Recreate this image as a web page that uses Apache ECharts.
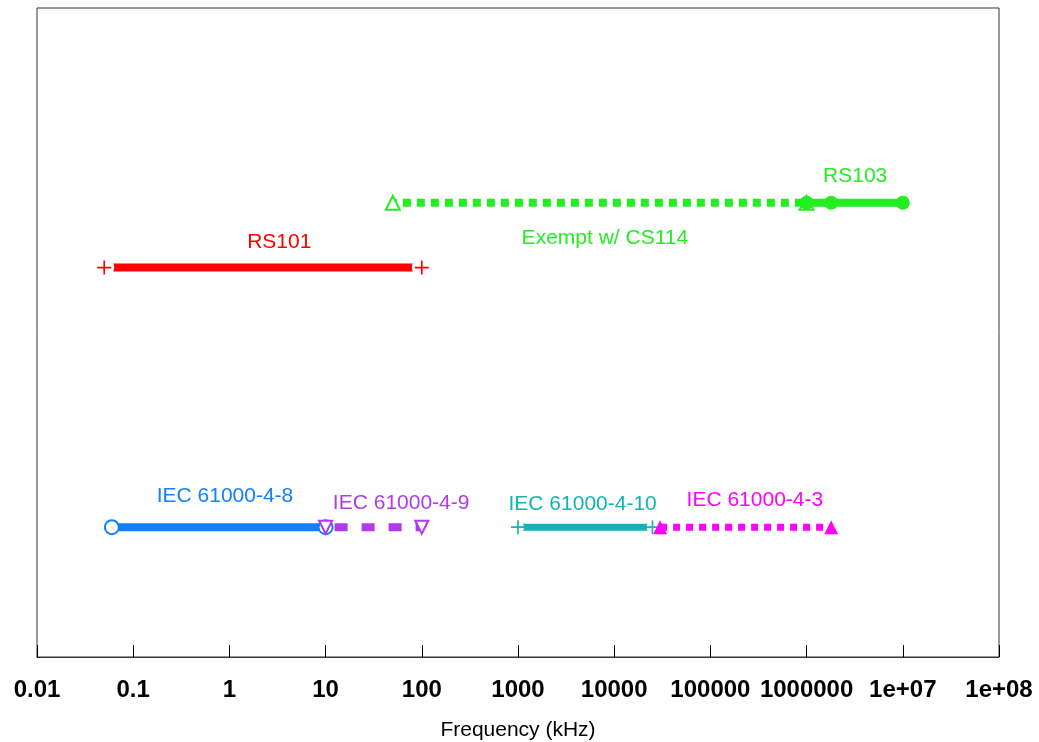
<!DOCTYPE html>
<html>
<head>
<meta charset="utf-8">
<script src="https://cdn.jsdelivr.net/npm/echarts@6/dist/echarts.min.js"></script>
<style>
html,body{margin:0;padding:0;background:#fff;}
#chart{width:1039px;height:742px;}
</style>
</head>
<body>
<div id="chart"></div>
<script>
// ---- data ----
const tickLabels = ['0.01','0.1','1','10','100','1000','10000','100000','1000000','1e+07','1e+08'];

const rs101Freq = [0.05, 100];          const rs101Level = 6;
const exemptFreq = [50, 1e6];           const exemptLevel = 7;
const rs103Freq = [1e6, 1.8e6, 1e7];    const rs103Level = 7;
const iec48Freq = [0.06, 10];           const iec48Level = 2;
const iec49Freq = [10, 100];            const iec49Level = 2;
const iec410Freq = [1000, 25000];       const iec410Level = 2;
const iec43Freq = [30000, 1.8e6];       const iec43Level = 2;

const labelNames = ['RS101', 'Exempt w/ CS114', 'RS103', 'IEC 61000-4-8', 'IEC 61000-4-9', 'IEC 61000-4-10', 'IEC 61000-4-3'];
const labelFreq  = [3.3, 8000, 3.2e6, 0.9, 61, 4700, 290000];
const labelLevel = [6.39, 6.45, 7.41, 2.48, 2.37, 2.36, 2.42];

// ---- styles ----
const FONT = '"Liberation Sans", Arial, Helvetica, sans-serif';
const C = {
  red: '#ff0000', green: '#22ee22', blue: '#1080ff',
  purple: '#b23aee', teal: '#14b4b4', magenta: '#ff00ff'
};
const labelColors = [C.red, C.green, C.green, C.blue, C.purple, C.teal, C.magenta];
const PLUS = 'path://M4.4,0 L5.6,0 L5.6,4.4 L10,4.4 L10,5.6 L5.6,5.6 L5.6,10 L4.4,10 L4.4,5.6 L0,5.6 L0,4.4 L4.4,4.4 Z';

function pts(freqs, level) { return freqs.map(f => [f, level]); }

// each range: line + optional white gap halo + end markers (like R type="b")
const ranges = [
  { freqs: rs101Freq, level: rs101Level, color: C.red, width: 8, dash: null, symbol: PLUS, size: 14, halo: 20 },
  { freqs: exemptFreq, level: exemptLevel, color: C.green, width: 8, dash: [8, 6], offset: 4, symbol: 'emptyTriangle', size: 14, halo: 0 },
  { freqs: rs103Freq, level: rs103Level, color: C.green, width: 8, dash: null, symbol: 'circle', size: 14, halo: 0 },
  { freqs: iec48Freq, level: iec48Level, color: C.blue, width: 8, dash: null, symbol: 'emptyCircle', size: 14, halo: 0 },
  { freqs: iec49Freq, level: iec49Level, color: C.purple, width: 8, dash: [13, 14], offset: 18, symbol: 'emptyTriangle', size: 13, rotate: 180, halo: 0 },
  { freqs: iec410Freq, level: iec410Level, color: C.teal, width: 7, dash: null, symbol: PLUS, size: 14, halo: 12 },
  { freqs: iec43Freq, level: iec43Level, color: C.magenta, width: 7, dash: [7, 6], offset: 0, symbol: 'triangle', size: 14, halo: 0 }
];

const series = [];
ranges.forEach(r => {
  series.push({
    type: 'line', data: pts(r.freqs, r.level), showSymbol: false, silent: true,
    z: 2, emphasis: { disabled: true },
    lineStyle: { color: r.color, width: r.width, type: r.dash || 'solid', dashOffset: r.offset || 0,
                 cap: r.dash ? 'butt' : 'round' }
  });
});
ranges.forEach(r => {
  if (r.halo) {
    series.push({
      type: 'scatter', data: pts(r.freqs, r.level), silent: true, z: 3,
      symbol: 'circle', symbolSize: r.halo, itemStyle: { color: '#ffffff', opacity: 1 },
      emphasis: { disabled: true }
    });
  }
});
ranges.forEach(r => {
  const empty = typeof r.symbol === 'string' && r.symbol.indexOf('empty') === 0;
  series.push({
    type: 'scatter', data: pts(r.freqs, r.level), silent: true, z: 4,
    symbol: r.symbol, symbolSize: r.size, symbolRotate: r.rotate || 0,
    itemStyle: empty ? { color: r.color, borderColor: r.color, borderWidth: 1.5, opacity: 1 }
                     : { color: r.color, borderWidth: 0, opacity: 1 },
    emphasis: { disabled: true }
  });
});
series.push({
  type: 'scatter', silent: true, symbolSize: 1, z: 5,
  itemStyle: { color: 'transparent', opacity: 1 },
  data: labelNames.map((n, i) => ({
    name: n, value: [labelFreq[i], labelLevel[i]],
    label: { color: labelColors[i] }
  })),
  label: {
    show: true, position: 'inside', formatter: '{b}',
    fontFamily: FONT, fontSize: 21
  },
  emphasis: { disabled: true }
});

const chart = echarts.init(document.getElementById('chart'), null, { renderer: 'canvas' });
chart.setOption({
  animation: false,
  backgroundColor: '#ffffff',
  grid: { left: 37, right: 40, top: 8, bottom: 85, show: true, borderColor: '#333', borderWidth: 1,
          backgroundColor: 'transparent', containLabel: false, outerBoundsMode: 'none' },
  xAxis: {
    type: 'log', logBase: 10, min: 0.01, max: 1e8, interval: 1, splitNumber: 10,
    name: 'Frequency (kHz)', nameLocation: 'middle', nameGap: 63,
    nameTextStyle: { fontFamily: FONT, fontSize: 21, color: '#000' },
    axisLine: { show: true, lineStyle: { color: '#333', width: 1 } },
    axisTick: { show: true, inside: true, length: 12, interval: 0, lineStyle: { color: '#000' } },
    splitLine: { show: false },
    minorTick: { show: false },
    axisLabel: {
      interval: 0, hideOverlap: false,
      margin: 21, fontFamily: FONT, fontSize: 24, fontWeight: 'bold', color: '#000',
      showMinLabel: true, showMaxLabel: true,
      formatter: function (v) {
        const idx = Math.round(Math.log10(v)) + 2;
        return tickLabels[idx] !== undefined ? tickLabels[idx] : '';
      }
    }
  },
  yAxis: { type: 'value', min: 0, max: 10, show: false },
  series: series
});
</script>
</body>
</html>
